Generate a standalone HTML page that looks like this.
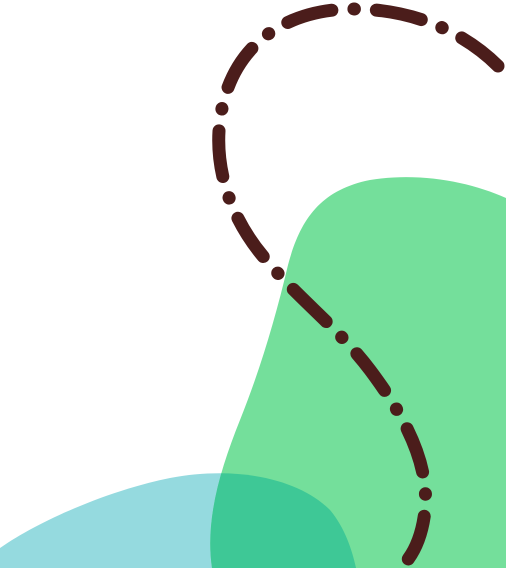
<!DOCTYPE html>
<html><head><meta charset="utf-8"><style>
html,body{margin:0;padding:0;background:#fff;width:506px;height:568px;overflow:hidden}
</style></head><body>
<svg width="506" height="568" viewBox="0 0 506 568">
<defs>
<clipPath id="greenClip"><path d="M506,198 C470,182 420,172 370,180 C320,190 300,220 288,265 C275,320 260,370 240,420 C220,470 205,520 212,568 L506,568 Z"/></clipPath>
</defs>
<path d="M0,548 C40,520 110,490 170,478 C240,465 300,480 330,510 C345,528 352,550 356,568 L0,568 Z" fill="#95dadf"/>
<path d="M506,198 C470,182 420,172 370,180 C320,190 300,220 288,265 C275,320 260,370 240,420 C220,470 205,520 212,568 L506,568 Z" fill="#74df9b"/>
<path clip-path="url(#greenClip)" d="M0,548 C40,520 110,490 170,478 C240,465 300,480 330,510 C345,528 352,550 356,568 L0,568 Z" fill="#3ec896"/>
<path d="M498,66 C470,38 420,8 350,9 C290,10 240,40 224,100 C208,160 230,220 268,262 C300,300 340,330 370,370 C400,410 430,460 425,510 C422,540 410,560 400,568" fill="none" stroke="#4b1d1b" stroke-width="13" stroke-linecap="round" stroke-dasharray="46 22 0.5 22"/>
</svg>
</body></html>
